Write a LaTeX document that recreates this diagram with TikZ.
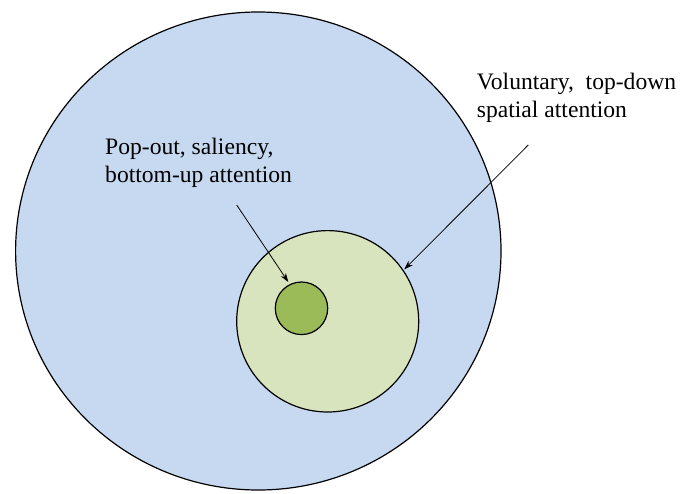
\documentclass[tikz,border=0pt]{standalone}
\usepackage{fontspec}
\setmainfont{Liberation Serif}
\usetikzlibrary{shapes.geometric,arrows.meta}
\definecolor{outerblue}{RGB}{198,217,240}
\definecolor{midgreen}{RGB}{215,228,189}
\definecolor{coregreen}{RGB}{155,187,89}
\tikzset{
  region/.style={ellipse, draw=black, line width=1.2pt, inner sep=0pt},
  caption/.style={inner sep=0pt, align=left, anchor=base west, font=\fontsize{23.6pt}{28pt}\selectfont},
  pointer/.style={draw=black, line width=0.8pt, -{Stealth[length=9pt,width=6pt]}}
}
\begin{document}
\begin{tikzpicture}[x=1pt,y=-1pt]
\useasboundingbox (0,0) rectangle (693,494);
\node[region, fill=outerblue, minimum width=485.4pt, minimum height=478pt] (outer) at (258.3,251) {};
\node[region, fill=midgreen, minimum width=182pt, minimum height=181.4pt] (mid) at (327.7,321.3) {};
\node[region, fill=coregreen, minimum width=52.4pt, minimum height=52.6pt] (core) at (301.5,308.3) {};
\node[caption] (vol) at (476.7,118) {Voluntary,\ \ top-down\\spatial attention};
\node[caption] (pop) at (105,182.3) {Pop-out, saliency,\\bottom-up attention};
\coordinate (popstart) at (236.7,205);
\coordinate (volstart) at (528.3,145);
\draw[pointer, shorten >=2.5pt] (popstart) -- (core.116);
\draw[pointer, shorten >=1pt] (volstart) -- (mid.34);
\end{tikzpicture}
\end{document}
